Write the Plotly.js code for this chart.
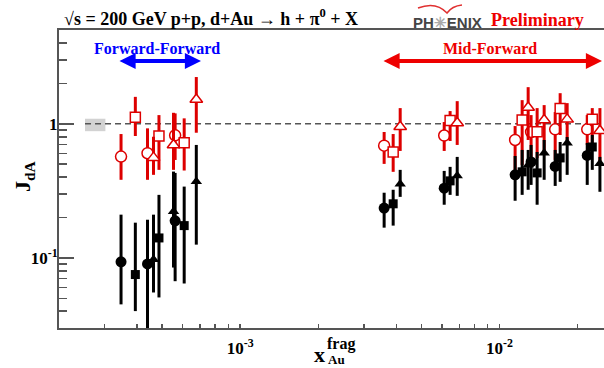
<!DOCTYPE html>
<html><head><meta charset="utf-8">
<script src="https://cdn.plot.ly/plotly-3.0.1.min.js"></script>
<style>html,body{margin:0;padding:0;background:#fff;}</style>
</head><body><div id="chart" style="width:604px;height:368px;"></div>
<script>
// x_Au^frag positions of each marker type (3 Forward-Forward + 6 Mid-Forward)
const xCircle   = [3.47e-4, 4.39e-4, 5.61e-4, 3.59e-3, 6.12e-3, 1.149e-2, 1.324e-2, 1.64e-2, 2.18e-2];
const xSquare   = [3.94e-4, 4.86e-4, 6.08e-4, 3.89e-3, 6.45e-3, 1.223e-2, 1.397e-2, 1.714e-2, 2.28e-2];
const xTriangle = [4.63e-4, 5.53e-4, 6.77e-4, 4.14e-3, 6.87e-3, 1.29e-2, 1.487e-2, 1.824e-2, 2.44e-2];

// peripheral (red, open)
const periCircle    = [0.569, 0.603, 0.820, 0.686, 0.817, 0.757, 0.868, 0.909, 0.909];
const periCircleHi  = [0.838, 0.924, 1.195, 0.868, 1.030, 0.961, 1.16, 1.222, 1.16];
const periCircleLo  = [0.382, 0.382, 0.537, 0.502, 0.627, 0.453, 0.538, 0.538, 0.695];
const periSquare    = [1.116, 0.810, 0.723, 0.616, 1.056, 1.065, 0.872, 1.301, 1.078];
const periSquareHi  = [1.587, 1.16, 1.097, 0.838, 1.243, 1.50, 1.308, 1.69, 1.308];
const periSquareLo  = [0.810, 0.453, 0.448, 0.438, 0.744, 0.493, 0.556, 0.824, 0.719];
const periTriangle   = [0.559, 0.695, 1.518, 0.950, 1.012, 1.32, 1.065, 1.078, 0.887];
const periTriangleHi = [0.80, 1.207, 2.23, 1.308, 1.474, 1.874, 1.377, 1.425, 1.308];
const periTriangleLo = [0.416, 0.453, 0.857, 0.627, 0.695, 0.757, 0.616, 0.757, 0.506];

// central (black, filled)
const centCircle    = [0.0934, 0.0902, 0.189, 0.235, 0.331, 0.416, 0.519, 0.481, 0.580];
const centCircleHi  = [0.21, 0.1925, 0.43, 0.306, 0.445, 0.575, 0.695, 0.638, 0.719];
const centCircleLo  = [0.045, 0.025, 0.067, 0.168, 0.249, 0.2666, 0.350, 0.344, 0.350];
const centSquare    = [0.0751, 0.1408, 0.174, 0.253, 0.375, 0.438, 0.430, 0.556, 0.671];
const centSquareHi  = [0.183, 0.295, 0.34, 0.322, 0.477, 0.638, 0.616, 0.731, 0.824];
const centSquareLo  = [0.0401, 0.0507, 0.0644, 0.174, 0.295, 0.295, 0.249, 0.369, 0.453];
const centTriangle   = [0.0971, 0.222, 0.371, 0.356, 0.409, 0.493, 0.606, 0.719, 0.506];
const centTriangleHi = [0.21, 0.44, 0.695, 0.453, 0.566, 0.638, 0.757, 0.796, 0.566];
const centTriangleLo = [0.0552, 0.0847, 0.1255, 0.285, 0.290, 0.322, 0.382, 0.416, 0.311];

// normalization uncertainty box
const normBoxX = [2.52e-4, 3.02e-4];
const normBoxY = [0.88, 1.09];

const xTickVals = [1e-3, 1e-2];
const xTickText = ['10<sup>-3</sup>', '10<sup>-2</sup>'];
const yTickVals = [0.1, 1];
const yTickText = ['10<sup>-1</sup>', '1'];

const RED = '#dd0000';
const SERIF = 'Liberation Serif, Times New Roman, serif';

function errs(y, hi, lo, color) {
  return {type: 'data', symmetric: false,
    array: hi.map((h, i) => h - y[i]),
    arrayminus: y.map((v, i) => v - lo[i]),
    width: 0, thickness: 3, color: color};
}
function series(x, y, hi, lo, symbol, open, size) {
  const color = open ? RED : '#000';
  return {type: 'scatter', mode: 'markers', x: x, y: y, cliponaxis: true,
    error_y: errs(y, hi, lo, color),
    marker: {symbol: symbol, size: size, color: open ? '#fff' : '#000',
      line: {color: color, width: open ? 1.5 : 0}}};
}

const xMin = 2e-4, xMax = 2.53e-2;

const traces = [
  {type: 'scatter', mode: 'lines', x: [normBoxX[0], normBoxX[1], normBoxX[1], normBoxX[0], normBoxX[0]],
   y: [normBoxY[0], normBoxY[0], normBoxY[1], normBoxY[1], normBoxY[0]],
   fill: 'toself', fillcolor: '#d2d2d2', line: {width: 0}},
  {type: 'scatter', mode: 'lines', x: [normBoxX[0], xMax * 1.2], y: [1, 1],
   line: {color: '#555', width: 1.5, dash: '6px,4px'}},
  series(xCircle, periCircle, periCircleHi, periCircleLo, 'circle', true, 11),
  series(xSquare, periSquare, periSquareHi, periSquareLo, 'square', true, 10),
  series(xTriangle, periTriangle, periTriangleHi, periTriangleLo, 'triangle-up', true, 11),
  series(xCircle, centCircle, centCircleHi, centCircleLo, 'circle', false, 11),
  series(xSquare, centSquare, centSquareHi, centSquareLo, 'square', false, 9),
  series(xTriangle, centTriangle, centTriangleHi, centTriangleLo, 'triangle-up', false, 10)
];

const L = 59, T = 30, W = 604, H = 368, B = 40;
const pw = W - L, ph = H - T - B;
const px = x => (x - L) / pw;
const py = y => (H - B - y) / ph;

function txt(text, x, y, size, color, xanchor, family, extra) {
  return Object.assign({xref: 'paper', yref: 'paper', x: px(x), y: py(y), text: text,
    showarrow: false, xanchor: xanchor || 'center', yanchor: 'middle',
    font: {family: family || SERIF, size: size, color: color || '#000'}}, extra || {});
}
function arrow(x0, x1, y, color) {
  return {xref: 'paper', yref: 'paper', x: px(x1), y: py(y), ax: -(x1 - x0), ay: 0,
    axref: 'pixel', ayref: 'pixel', text: '', showarrow: true, arrowside: 'end+start',
    arrowhead: 2, arrowsize: 0.85, arrowwidth: 3.8, arrowcolor: color, standoff: 0, startstandoff: 0};
}

const annotations = [
  txt('<b>√s = 200 GeV p+p, d+Au → h + π<sup>0</sup> + X</b>', 62, 17, 18, '#000', 'left'),
  txt('<b>PH<span style="color:#aaa">✳</span>ENIX</b>', 411, 22, 15, '#444', 'left', 'Liberation Sans, Arial, sans-serif'),
  txt('<b>Preliminary</b>', 489, 20, 18, '#ee0000', 'left'),
  txt('<b>Forward-Forward</b>', 157, 48, 16, '#0000ff'),
  txt('<b>Mid-Forward</b>', 490, 48, 16, '#ee0000'),
  arrow(118, 201, 61, '#0000ff'),
  arrow(382, 602, 61, '#ee0000'),
  txt('<b>J<sub>dA</sub></b>', 24, 177, 22, '#000', 'center', SERIF, {textangle: -90}),
  txt('<b>x</b>', 319, 354, 22, '#000'),
  txt('<b>frag</b>', 325, 344, 16, '#000', 'left'),
  txt('<b>Au</b>', 326, 359, 13, '#000', 'left')
];

const arcPath = 'M' + px(418) + ',' + py(8) + ' Q' + px(436) + ',' + py(1) + ' ' + px(447) + ',' + py(13) +
                ' Q' + px(452) + ',' + py(6) + ' ' + px(462) + ',' + py(5);

const minorX = [3e-4,4e-4,5e-4,6e-4,7e-4,8e-4,9e-4,2e-3,3e-3,4e-3,5e-3,6e-3,7e-3,8e-3,9e-3,2e-2];
const minorY = [0.04,0.05,0.06,0.07,0.08,0.09,0.2,0.3,0.4,0.5,0.6,0.7,0.8,0.9,2,3,4];

const layout = {
  width: W, height: H, margin: {l: L, r: 0, t: T, b: B},
  paper_bgcolor: '#fff', plot_bgcolor: '#fff', showlegend: false, hovermode: false,
  font: {family: SERIF, color: '#000'},
  xaxis: {type: 'log', range: [Math.log10(xMin), Math.log10(xMax)],
    showline: true, linecolor: '#555', linewidth: 2, mirror: true, showgrid: false, zeroline: false,
    ticks: 'inside', ticklen: 4, tickwidth: 1.5, tickcolor: '#555', ticklabelstandoff: 4,
    tickmode: 'array', tickvals: xTickVals, ticktext: xTickText.map(t => '<b>' + t + '</b>'),
    tickfont: {family: SERIF, size: 17, color: '#000'},
    minor: {tickmode: 'array', tickvals: minorX, ticks: 'inside', ticklen: 4, tickwidth: 1.5, tickcolor: '#555', showgrid: false}},
  yaxis: {type: 'log', range: [Math.log10(0.03), Math.log10(5)],
    showline: true, linecolor: '#555', linewidth: 2, mirror: false, showgrid: false, zeroline: false,
    ticks: 'inside', ticklen: 15, tickwidth: 1.5, tickcolor: '#555', ticklabelstandoff: -4,
    tickmode: 'array', tickvals: yTickVals, ticktext: yTickText.map(t => '<b>' + t + '</b>'),
    tickfont: {family: SERIF, size: 17, color: '#000'},
    minor: {tickmode: 'array', tickvals: minorY, ticks: 'inside', ticklen: 8, tickwidth: 1.5, tickcolor: '#555', showgrid: false}},
  annotations: annotations,
  shapes: [{type: 'path', xref: 'paper', yref: 'paper', path: arcPath, line: {color: '#e03030', width: 1.5}}]
};

Plotly.newPlot('chart', traces, layout, {staticPlot: true, displayModeBar: false});
</script>
</body></html>
